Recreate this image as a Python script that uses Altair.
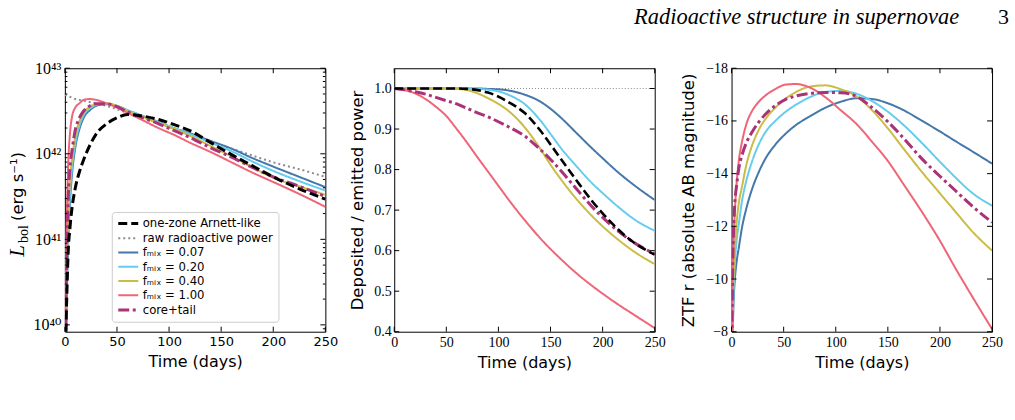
import math
import altair as alt
import pandas as pd

# ---------------- series definitions ----------------
SERIES = ["one-zone Arnett-like", "raw radioactive power",
          "fₘᵢₓ = 0.07", "fₘᵢₓ = 0.20", "fₘᵢₓ = 0.40", "fₘᵢₓ = 1.00", "core+tail"]
COLORS = ["#000000", "#8c8c8c", "#4477AA", "#66CCEE", "#CCBB44", "#EE6677", "#AA3377"]
DASHES1 = [[9, 4], [2, 3], [1, 0], [1, 0], [1, 0], [1, 0], [11, 3.5, 3, 3.5]]
DASHES2 = [[9, 4], [1, 2], [1, 0], [1, 0], [1, 0], [1, 0], [11, 3.5, 3, 3.5]]
WIDTHS1 = [3, 2, 2, 2, 2, 2, 3]
WIDTHS2 = [2.6, 1, 2, 2, 2, 2, 3]
DRAW_ORDER = [SERIES[1], SERIES[2], SERIES[3], SERIES[4], SERIES[5], SERIES[6], SERIES[0]]

# ---------------- panel 1: log10 L_bol (erg/s) ----------------
days1 = [0, 1, 2, 3, 5, 7, 10, 14, 18, 24, 30, 40, 50, 60, 75, 90, 105, 120, 140, 160, 180, 200, 225, 250]
logL_raw = [42.69, 42.685, 42.68, 42.675, 42.665, 42.655, 42.64, 42.63, 42.62, 42.605, 42.59, 42.56,
            42.52, 42.48, 42.42, 42.36, 42.29, 42.23, 42.14, 42.06, 41.98, 41.90, 41.82, 41.73]
logL_arnett = [39.0, 39.9, 40.4, 40.8, 41.15, 41.38, 41.6, 41.79, 41.93, 42.10, 42.23, 42.35,
               42.42, 42.46, 42.44, 42.40, 42.34, 42.27, 42.13, 41.99, 41.86, 41.73, 41.59, 41.47]
logL_f007 = [39.0, 39.7, 40.4, 40.9, 41.45, 41.78, 42.07, 42.29, 42.42, 42.51, 42.56, 42.58,
             42.56, 42.51, 42.44, 42.37, 42.30, 42.24, 42.15, 42.06, 41.95, 41.85, 41.73, 41.61]
logL_f020 = [39.0, 39.8, 40.5, 41.0, 41.55, 41.85, 42.12, 42.33, 42.45, 42.53, 42.57, 42.585,
             42.56, 42.51, 42.44, 42.37, 42.30, 42.23, 42.13, 42.03, 41.91, 41.80, 41.68, 41.57]
logL_f040 = [39.0, 40.0, 40.7, 41.2, 41.7, 41.95, 42.2, 42.38, 42.48, 42.55, 42.58, 42.59,
             42.56, 42.50, 42.43, 42.36, 42.29, 42.21, 42.09, 41.97, 41.84, 41.72, 41.62, 41.52]
logL_f100 = [39.0, 40.5, 41.3, 41.8, 42.25, 42.44, 42.54, 42.59, 42.63, 42.64, 42.63, 42.59,
             42.54, 42.48, 42.39, 42.30, 42.22, 42.13, 42.02, 41.90, 41.78, 41.67, 41.53, 41.38]
logL_core = [39.0, 40.2, 40.9, 41.4, 41.85, 42.05, 42.28, 42.42, 42.50, 42.56, 42.585, 42.585,
             42.55, 42.49, 42.42, 42.35, 42.27, 42.19, 42.07, 41.96, 41.84, 41.73, 41.62, 41.50]

# ---------------- panel 2: deposited / emitted ----------------
days2 = [0, 10, 20, 30, 40, 50, 60, 70, 80, 90, 100, 110, 125, 140, 150, 160, 175, 190, 200, 215, 230, 250]
dep_raw = [1.0] * 22
dep_arnett = [1.0, 1.0, 1.0, 1.0, 1.0, 1.0, 1.0, 0.999, 0.996, 0.99, 0.98, 0.966, 0.94, 0.897,
              0.862, 0.826, 0.773, 0.722, 0.692, 0.652, 0.62, 0.59]
dep_f007 = [1.0, 1.0, 1.0, 1.0, 1.0, 1.0, 1.0, 1.0, 1.0, 0.999, 0.998, 0.995, 0.985, 0.968,
            0.95, 0.928, 0.89, 0.852, 0.828, 0.793, 0.762, 0.725]
dep_f020 = [1.0, 1.0, 1.0, 1.0, 1.0, 1.0, 1.0, 1.0, 0.999, 0.997, 0.993, 0.984, 0.962, 0.922,
            0.888, 0.853, 0.808, 0.766, 0.742, 0.708, 0.678, 0.649]
dep_f040 = [1.0, 1.0, 1.0, 1.0, 1.0, 1.0, 0.999, 0.996, 0.988, 0.976, 0.962, 0.944, 0.905, 0.852,
            0.812, 0.776, 0.727, 0.685, 0.66, 0.627, 0.598, 0.567]
dep_f100 = [1.0, 0.996, 0.988, 0.974, 0.955, 0.932, 0.9, 0.866, 0.83, 0.795, 0.76, 0.725, 0.676,
            0.631, 0.604, 0.579, 0.544, 0.513, 0.494, 0.467, 0.442, 0.409]
dep_core = [1.0, 0.997, 0.992, 0.986, 0.978, 0.97, 0.962, 0.951, 0.94, 0.93, 0.918, 0.905, 0.883,
            0.85, 0.825, 0.797, 0.752, 0.708, 0.682, 0.648, 0.62, 0.592]

# ---------------- panel 3: ZTF r absolute magnitude ----------------
days3 = [0, 1, 2, 3, 5, 7, 10, 14, 20, 26, 33, 42, 52, 62, 75, 90, 105, 120, 135, 150, 165, 183,
         200, 215, 230, 250]
mag_f007 = [-6, -7.8, -9.2, -9.9, -10.7, -11.2, -11.95, -12.65, -13.45, -14.05, -14.6, -15.1, -15.52,
            -15.85, -16.17, -16.5, -16.73, -16.86, -16.83, -16.67, -16.41, -16.0, -15.6, -15.23,
            -14.87, -14.38]
mag_f020 = [-6, -8.3, -9.6, -10.5, -11.5, -12.1, -12.95, -13.7, -14.5, -15.1, -15.6, -16.0, -16.35,
            -16.62, -16.9, -17.1, -17.14, -17.03, -16.75, -16.35, -15.85, -15.15, -14.45, -13.85,
            -13.3, -12.78]
mag_f040 = [-6, -8.6, -10.2, -11.0, -12.2, -12.9, -13.5, -14.3, -15.1, -15.65, -16.1, -16.5, -16.85,
            -17.1, -17.3, -17.35, -17.2, -16.93, -16.4, -15.72, -14.95, -14.05, -13.25, -12.55,
            -11.85, -11.08]
mag_f100 = [-6, -9.8, -11.5, -12.45, -13.7, -14.5, -15.2, -15.85, -16.4, -16.72, -16.98, -17.21,
            -17.38, -17.40, -17.27, -16.90, -16.40, -15.88, -15.20, -14.48, -13.60, -12.53, -11.45,
            -10.40, -9.40, -8.10]
mag_core = [-6, -10.3, -11.9, -12.8, -13.6, -14.2, -14.7, -15.15, -15.6, -15.95, -16.27, -16.58,
            -16.82, -16.95, -17.04, -17.08, -17.07, -16.93, -16.5, -15.97, -15.35, -14.55, -13.9,
            -13.35, -12.8, -12.15]

# ---------------- ticks / labels ----------------
X_TICKS = [0, 50, 100, 150, 200, 250]
Y1_TICKS = [40, 41, 42, 43]
Y1_LABELS = {40: "10⁴⁰", 41: "10⁴¹", 42: "10⁴²", 43: "10⁴³"}
Y2_TICKS = [0.4, 0.5, 0.6, 0.7, 0.8, 0.9, 1.0]
Y3_TICKS = [-18, -16, -14, -12, -10, -8]

SANS = "DejaVu Sans"
SERIF = "Liberation Serif, DejaVu Serif"
W, H = 261, 264
GAP12, GAP23 = 69, 77
TL = 5

Y1_DOMAIN = [39.92, 43]
Y1_MINOR = [n + math.log10(k) for n in (39, 40, 41, 42) for k in range(2, 10)
            if Y1_DOMAIN[0] <= n + math.log10(k) <= Y1_DOMAIN[1]]

DUMMY = alt.Data(values=[{"k": 0}])


def long_table(days, curves):
    rows = []
    for name in DRAW_ORDER:
        if name in curves:
            for t, v in zip(days, curves[name]):
                rows.append({"series": name, "t": t, "v": v})
    return pd.DataFrame(rows)


def style_encodings(show_legend, widths, dashes):
    if show_legend:
        leg = alt.Legend(title=None, orient="none", legendX=47, legendY=144,
                         symbolType="M-1,0H3", symbolSize=100, labelFont=SANS, labelFontSize=11.7,
                         labelColor="black", labelLimit=300, padding=5, rowPadding=1.3,
                         labelOffset=13, fillColor="white", strokeColor="#cccccc", cornerRadius=3)
    else:
        leg = None
    color = alt.Color("series:N", scale=alt.Scale(domain=SERIES, range=COLORS), legend=leg)
    dash = alt.StrokeDash("series:N", scale=alt.Scale(domain=SERIES, range=dashes), legend=leg)
    width = alt.StrokeWidth("series:N", scale=alt.Scale(type="ordinal", domain=SERIES, range=widths),
                            legend=leg)
    return color, dash, width


def tick_layers(xscale, xaxis, yscale, yaxis, ymajor, yminor):
    layers = []
    dfx = pd.DataFrame({"v": X_TICKS})
    for y0, y1 in ((H, H - TL), (0, TL)):
        layers.append(alt.Chart(dfx).mark_rule(color="black", strokeWidth=1).encode(
            x=alt.X("v:Q", scale=xscale, axis=xaxis), y=alt.value(y0), y2=alt.value(y1)))
    for vals, ln in ((ymajor, TL), (yminor, 2.5)):
        if not vals:
            continue
        dfy = pd.DataFrame({"v": vals})
        for x0, x1 in ((0, ln), (W - ln, W)):
            layers.append(alt.Chart(dfy).mark_rule(color="black", strokeWidth=1).encode(
                y=alt.Y("v:Q", scale=yscale, axis=yaxis), x=alt.value(x0), x2=alt.value(x1)))
    return layers


def x_axis(label_font, label_size):
    return alt.Axis(values=X_TICKS, title="Time (days)", labelFont=label_font, labelFontSize=label_size,
                    labelPadding=4, labelFlush=False, labelOverlap=False, titleFont=SANS,
                    titleFontSize=16, titleFontWeight="normal", titlePadding=5, ticks=False,
                    domain=False, grid=False, labelColor="black", titleColor="black")


def y_axis(values, title, label_font, label_size, padding, title_padding, **kw):
    return alt.Axis(values=values, title=title, labelFont=label_font, labelFontSize=label_size,
                    labelPadding=padding, labelOverlap=False, titleFont=SANS, titleFontSize=16.5,
                    titleFontWeight="normal", titlePadding=title_padding, ticks=False, domain=False,
                    grid=False, labelColor="black", titleColor="black", **kw)


XSCALE = alt.Scale(domain=[0, 250], nice=False, zero=False)

# ---------------- panel 1 ----------------
df1 = long_table(days1, {SERIES[0]: logL_arnett, SERIES[1]: logL_raw, SERIES[2]: logL_f007,
                         SERIES[3]: logL_f020, SERIES[4]: logL_f040, SERIES[5]: logL_f100,
                         SERIES[6]: logL_core})
ys1 = alt.Scale(domain=Y1_DOMAIN, nice=False, zero=False)
xa1 = x_axis(SANS, 13)
label_expr = " : ".join(f"datum.value == {k} ? '{v}'" for k, v in Y1_LABELS.items()) + " : ''"
ya1 = y_axis(Y1_TICKS, None, SERIF, 16, 4, 0, labelExpr=label_expr)
c1, d1, w1 = style_encodings(True, WIDTHS1, DASHES1)
lines1 = alt.Chart(df1).mark_line(clip=True, interpolate="monotone").encode(
    x=alt.X("t:Q", scale=XSCALE, axis=xa1),
    y=alt.Y("v:Q", scale=ys1, axis=ya1),
    color=c1, strokeDash=d1, strokeWidth=w1, order=alt.Order("t:Q"))
title1 = [
    alt.Chart(DUMMY).mark_text(text="L", font=SERIF, fontStyle="italic", fontSize=21, angle=270,
                               align="left", baseline="alphabetic", color="black").encode(
        x=alt.value(-41), y=alt.value(189)),
    alt.Chart(DUMMY).mark_text(text="bol", font=SERIF, fontSize=14, angle=270, align="left",
                               baseline="alphabetic", color="black").encode(
        x=alt.value(-37), y=alt.value(175)),
    alt.Chart(DUMMY).mark_text(text="(erg s⁻¹)", font=SANS, fontSize=16.5, angle=270, align="left",
                               baseline="alphabetic", color="black").encode(
        x=alt.value(-42), y=alt.value(153)),
]
p1 = alt.layer(lines1, *tick_layers(XSCALE, xa1, ys1, ya1, Y1_TICKS, Y1_MINOR), *title1).properties(
    width=W, height=H)

# ---------------- panel 2 ----------------
df2 = long_table(days2, {SERIES[0]: dep_arnett, SERIES[1]: dep_raw, SERIES[2]: dep_f007,
                         SERIES[3]: dep_f020, SERIES[4]: dep_f040, SERIES[5]: dep_f100,
                         SERIES[6]: dep_core})
ys2 = alt.Scale(domain=[0.4, 1.05], nice=False, zero=False)
xa2 = x_axis(SERIF, 14)
ya2 = y_axis(Y2_TICKS, "Deposited / emitted power", SERIF, 14, 3, 8, format=".1f")
c2, d2, w2 = style_encodings(False, WIDTHS2, DASHES2)
lines2 = alt.Chart(df2).mark_line(clip=True, interpolate="monotone").encode(
    x=alt.X("t:Q", scale=XSCALE, axis=xa2),
    y=alt.Y("v:Q", scale=ys2, axis=ya2),
    color=c2, strokeDash=d2, strokeWidth=w2, order=alt.Order("t:Q"))
p2 = alt.layer(lines2, *tick_layers(XSCALE, xa2, ys2, ya2, Y2_TICKS, [])).properties(width=W, height=H)

# ---------------- panel 3 ----------------
df3 = long_table(days3, {SERIES[2]: mag_f007, SERIES[3]: mag_f020, SERIES[4]: mag_f040,
                         SERIES[5]: mag_f100, SERIES[6]: mag_core})
ys3 = alt.Scale(domain=[-18, -8], reverse=True, nice=False, zero=False)
xa3 = x_axis(SERIF, 14)
ya3 = y_axis(Y3_TICKS, "ZTF r (absolute AB magnitude)", SERIF, 14, 4, 9, format="d")
c3, d3, w3 = style_encodings(False, WIDTHS1, DASHES1)
lines3 = alt.Chart(df3).mark_line(clip=True, interpolate="monotone").encode(
    x=alt.X("t:Q", scale=XSCALE, axis=xa3),
    y=alt.Y("v:Q", scale=ys3, axis=ya3),
    color=c3, strokeDash=d3, strokeWidth=w3, order=alt.Order("t:Q"))
header = [
    alt.Chart(DUMMY).mark_text(text="Radioactive structure in supernovae", font=SERIF,
                               fontStyle="italic", fontSize=22.5, align="right",
                               baseline="alphabetic", color="black").encode(
        x=alt.value(228), y=alt.value(-44)),
    alt.Chart(DUMMY).mark_text(text="3", font=SERIF, fontSize=22, align="right",
                               baseline="alphabetic", color="black").encode(
        x=alt.value(278), y=alt.value(-44)),
]
p3 = alt.layer(lines3, *tick_layers(XSCALE, xa3, ys3, ya3, Y3_TICKS, []), *header).properties(
    width=W, height=H)


def spacer(w):
    return alt.Chart(DUMMY).mark_point(opacity=0).encode(
        x=alt.value(0), y=alt.value(0)).properties(
        width=w, height=H, view=alt.ViewBackground(stroke="transparent", fill="transparent"))


chart = alt.hconcat(p1, spacer(GAP12), p2, spacer(GAP23), p3, spacing=0, bounds="flush").resolve_scale(
    color="independent", strokeDash="independent", strokeWidth="independent").properties(
    padding={"left": 6, "top": 5, "right": 5, "bottom": 5}, background="white"
).configure_view(stroke="black", strokeWidth=1)

chart.save("out.html", embed_options={"renderer": "svg", "actions": False})
